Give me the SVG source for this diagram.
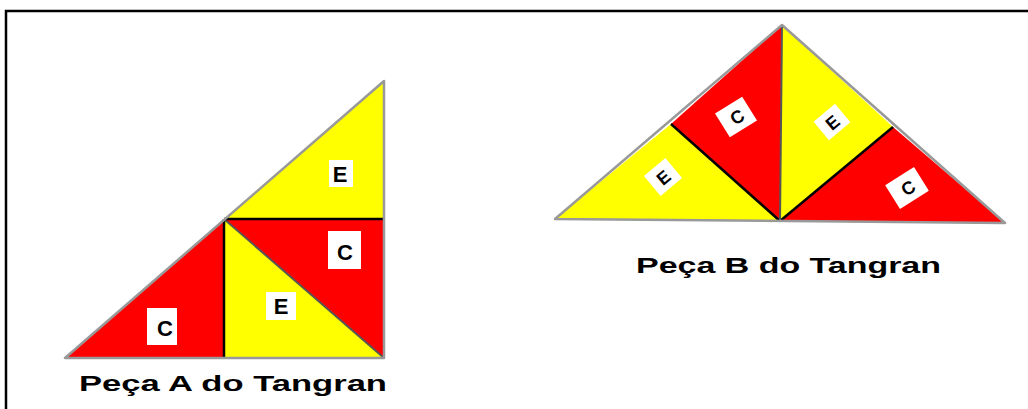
<svg xmlns="http://www.w3.org/2000/svg" width="1028" height="409" viewBox="0 0 1028 409">
<style>
.r{fill:#ff0000}
.y{fill:#ffff00}
.edge{stroke:#999;stroke-width:2.5;fill:none;stroke-linejoin:round}
.in{stroke:#000;stroke-width:2.5;fill:none}
.ing{stroke:#555;stroke-width:2;fill:none}
.box{fill:#fff}
.lt{font-family:"Liberation Sans",Arial,sans-serif;font-weight:bold;font-size:22px;fill:#000;text-anchor:middle}
.ls{font-family:"Liberation Sans",Arial,sans-serif;font-weight:bold;font-size:18px;fill:#000;text-anchor:middle}
.cap{font-family:"Liberation Sans",Arial,sans-serif;font-weight:bold;font-size:22px;fill:#000}
</style>
<rect width="1028" height="409" fill="#fff"/>
<path d="M6,409 V11 H1028" fill="none" stroke="#000" stroke-width="2.5"/>
<g id="pieceA">
<polygon class="r" points="65,358 224,219 224,358"/>
<polygon class="y" points="224,219 224,358 384,358"/>
<polygon class="r" points="224,219 384,219 384,358"/>
<polygon class="y" points="224,219 384,81 384,219"/>
<line class="ing" x1="224" y1="219" x2="384" y2="358"/>
<line class="in" x1="224" y1="219" x2="224" y2="358"/>
<line class="in" x1="224" y1="219" x2="384" y2="219"/>
<polygon class="edge" points="65,358 384,358 384,81"/>
<rect class="box" x="147" y="308" width="30" height="37"/>
<text class="lt" x="165" y="336">C</text>
<rect class="box" x="266" y="292" width="30" height="28"/>
<text class="lt" x="281" y="314">E</text>
<rect class="box" x="328" y="231" width="33" height="38"/>
<text class="lt" x="345" y="260">C</text>
<rect class="box" x="329" y="160" width="24" height="27"/>
<text class="lt" x="340" y="182">E</text>
</g>
<g id="pieceB">
<polygon class="y" points="555,219 671,124 780,221"/>
<polygon class="r" points="671,124 782,25 780,221"/>
<polygon class="y" points="782,25 893,127 780,221"/>
<polygon class="r" points="893,127 1005,223 780,221"/>
<line class="in" x1="671" y1="124" x2="780" y2="221"/>
<line class="in" x1="893" y1="127" x2="780" y2="221"/>
<line class="ing" x1="782" y1="25" x2="780" y2="221"/>
<polygon class="edge" points="555,219 782,25 1005,223"/>
<g transform="translate(736,117) rotate(-32)"><rect class="box" x="-16" y="-14" width="32" height="28"/><text class="ls" x="1" y="7">C</text></g>
<g transform="translate(663,177) rotate(-40)"><rect class="box" x="-14" y="-13" width="28" height="26"/><text class="ls" x="0" y="7">E</text></g>
<g transform="translate(832,122) rotate(-40)"><rect class="box" x="-14" y="-12" width="28" height="24"/><text class="ls" x="0" y="7">E</text></g>
<g transform="translate(907,188) rotate(-32)"><rect class="box" x="-17" y="-14" width="34" height="28"/><text class="ls" x="1" y="7">C</text></g>
</g>
<g id="captions">
<text class="cap" x="79" y="391" textLength="308" lengthAdjust="spacingAndGlyphs">Peça A do Tangran</text>
<text class="cap" x="636" y="273" textLength="305" lengthAdjust="spacingAndGlyphs">Peça B do Tangran</text>
</g>
</svg>
